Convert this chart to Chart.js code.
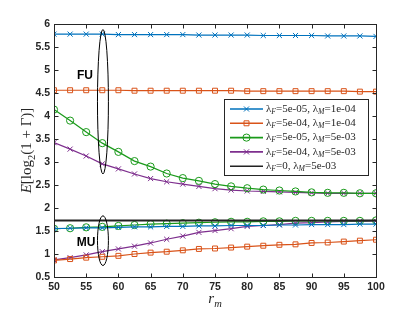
<!DOCTYPE html>
<html>
<head>
<meta charset="utf-8">
<script src="https://cdn.jsdelivr.net/npm/chart.js@4.4.1/dist/chart.umd.min.js"></script>
<style>
  html, body { margin: 0; padding: 0; background: #fff; }
</style>
</head>
<body>
<canvas id="chart" width="415" height="312"></canvas>
<script>
// r_m values (x axis)
const rm = [50, 52.5, 55, 57.5, 60, 62.5, 65, 67.5, 70, 72.5, 75, 77.5, 80, 82.5, 85, 87.5, 90, 92.5, 95, 97.5, 100];

// FU curves
const fuBlue   = [5.78, 5.78, 5.78, 5.78, 5.77, 5.77, 5.77, 5.77, 5.77, 5.76, 5.76, 5.76, 5.76, 5.75, 5.75, 5.75, 5.75, 5.74, 5.74, 5.74, 5.73];
const fuOrange = [4.56, 4.56, 4.56, 4.56, 4.56, 4.55, 4.55, 4.55, 4.55, 4.55, 4.55, 4.55, 4.54, 4.54, 4.54, 4.54, 4.54, 4.54, 4.54, 4.53, 4.53];
const fuGreen  = [4.14, 3.90, 3.65, 3.41, 3.22, 3.02, 2.90, 2.75, 2.65, 2.59, 2.52, 2.47, 2.43, 2.40, 2.38, 2.36, 2.34, 2.33, 2.33, 2.32, 2.32];
const fuPurple = [3.42, 3.28, 3.13, 2.96, 2.85, 2.74, 2.64, 2.57, 2.52, 2.47, 2.42, 2.39, 2.37, 2.36, 2.35, 2.34, 2.33, 2.32, 2.32, 2.32, 2.32];

// MU curves
const muBlue   = [1.55, 1.56, 1.57, 1.57, 1.58, 1.59, 1.59, 1.60, 1.60, 1.61, 1.61, 1.62, 1.62, 1.62, 1.63, 1.63, 1.64, 1.64, 1.64, 1.65, 1.65];
const muOrange = [0.86, 0.89, 0.92, 0.94, 0.96, 1.00, 1.03, 1.05, 1.08, 1.11, 1.12, 1.14, 1.16, 1.18, 1.20, 1.21, 1.24, 1.25, 1.27, 1.29, 1.31];
const muGreen  = [1.55, 1.56, 1.58, 1.59, 1.61, 1.63, 1.65, 1.66, 1.67, 1.68, 1.69, 1.70, 1.70, 1.71, 1.71, 1.72, 1.72, 1.72, 1.72, 1.72, 1.73];
const muPurple = [0.87, 0.92, 0.98, 1.05, 1.11, 1.17, 1.24, 1.32, 1.39, 1.47, 1.51, 1.55, 1.60, 1.62, 1.64, 1.67, 1.68, 1.70, 1.71, 1.71, 1.72];
const muBlack  = [1.73, 1.73, 1.73, 1.73, 1.73, 1.73, 1.73, 1.73, 1.73, 1.73, 1.73, 1.73, 1.73, 1.73, 1.73, 1.73, 1.73, 1.73, 1.73, 1.73, 1.73];

// legend parameters
const lamF = ['5e-05', '5e-04', '5e-05', '5e-04', '0'];
const lamM = ['1e-04', '1e-04', '5e-03', '5e-03', '5e-03'];

const xTicks = [50, 55, 60, 65, 70, 75, 80, 85, 90, 95, 100];
const yTicks = [0.5, 1, 1.5, 2, 2.5, 3, 3.5, 4, 4.5, 5, 5.5, 6];

const BLUE = '#0072BD', ORANGE = '#D95319', GREEN = '#1a9a1a', PURPLE = '#7E2F8E', BLACK = '#222';
const styles = [
  { color: BLUE, marker: 'crossRot' },
  { color: ORANGE, marker: 'rect' },
  { color: GREEN, marker: 'circle' },
  { color: PURPLE, marker: 'crossRot' },
  { color: BLACK, marker: false }
];

function series(vals, s, width) {
  return {
    data: vals.map((v, i) => ({ x: rm[i], y: v })),
    borderColor: s.color,
    backgroundColor: 'rgba(0,0,0,0)',
    borderWidth: width || 1.2,
    pointStyle: s.marker || 'circle',
    pointRadius: s.marker ? (s.marker === 'rect' ? 3.5 : 3.6) : 0,
    pointBorderWidth: 1,
    pointBorderColor: s.color,
    pointBackgroundColor: 'rgba(0,0,0,0)',
    tension: 0
  };
}

const SERIF = '"Liberation Serif", "DejaVu Serif", serif';
const SANS = '"Liberation Sans", Arial, sans-serif';

// draw text pieces: [text, kind] kind: n normal, i italic, s subscript, si italic subscript
function drawPieces(ctx, pieces, x, y, size) {
  let cx = x;
  pieces.forEach(([t, k]) => {
    const sub = k === 's' || k === 'si';
    const ital = k === 'i' || k === 'si';
    const fs = sub ? size * 0.7 : size;
    ctx.font = (ital ? 'italic ' : '') + fs + 'px ' + SERIF;
    ctx.fillText(t, cx, sub ? y + size * 0.25 : y);
    cx += ctx.measureText(t).width;
  });
  return cx - x;
}
function measurePieces(ctx, pieces, size) {
  let w = 0;
  pieces.forEach(([t, k]) => {
    const sub = k === 's' || k === 'si';
    const ital = k === 'i' || k === 'si';
    ctx.font = (ital ? 'italic ' : '') + (sub ? size * 0.7 : size) + 'px ' + SERIF;
    w += ctx.measureText(t).width;
  });
  return w;
}

const decor = {
  id: 'decor',
  afterDatasetsDraw(chart) {
    const { ctx, chartArea: a, scales: { x, y } } = chart;
    ctx.save();
    // ellipses FU / MU
    ctx.strokeStyle = '#000';
    ctx.lineWidth = 1;
    [[57.6, 4.31, 1.57], [57.6, 1.29, 0.54]].forEach(([cx, cy, hy]) => {
      const px = x.getPixelForValue(cx), py = y.getPixelForValue(cy);
      const rx = x.getPixelForValue(cx + 0.85) - px;
      const ry = py - y.getPixelForValue(cy + hy);
      ctx.beginPath();
      ctx.ellipse(px, py, rx, ry, 0, 0, Math.PI * 2);
      ctx.stroke();
    });
    ctx.fillStyle = '#000';
    ctx.font = 'bold 12px ' + SANS;
    ctx.textAlign = 'center';
    ctx.textBaseline = 'middle';
    ctx.fillText('FU', x.getPixelForValue(54.8), y.getPixelForValue(4.88));
    ctx.fillText('MU', x.getPixelForValue(55), y.getPixelForValue(1.24));

    // axes box and inward ticks
    const L = Math.round(a.left) + 0.5, R = Math.round(a.right) + 0.5;
    const T = Math.round(a.top) + 0.5, B = Math.round(a.bottom) + 0.5;
    ctx.strokeStyle = '#262626';
    ctx.lineWidth = 1;
    ctx.strokeRect(L, T, R - L, B - T);
    ctx.beginPath();
    xTicks.forEach(v => {
      const p = Math.round(x.getPixelForValue(v)) + 0.5;
      ctx.moveTo(p, B); ctx.lineTo(p, B - 4);
      ctx.moveTo(p, T); ctx.lineTo(p, T + 4);
    });
    yTicks.forEach(v => {
      const p = Math.round(y.getPixelForValue(v)) + 0.5;
      ctx.moveTo(L, p); ctx.lineTo(L + 4, p);
      ctx.moveTo(R, p); ctx.lineTo(R - 4, p);
    });
    ctx.stroke();

    // axis labels
    ctx.fillStyle = '#262626';
    ctx.textAlign = 'left';
    ctx.textBaseline = 'alphabetic';
    const xl = [['r', 'i'], ['m', 'si']];
    const xw = measurePieces(ctx, xl, 15);
    drawPieces(ctx, xl, (a.left + a.right) / 2 - xw / 2, 303, 15);

    const yl = [['E', 'i'], ['[log', 'n'], ['2', 's'], ['(1 + \u0393)]', 'n']];
    const yw = measurePieces(ctx, yl, 15);
    ctx.save();
    ctx.translate(31, (a.top + a.bottom) / 2 + yw / 2);
    ctx.rotate(-Math.PI / 2);
    drawPieces(ctx, yl, 0, 0, 15);
    ctx.restore();
    ctx.restore();
  },
  afterDraw(chart) {
    const { ctx } = chart;
    ctx.save();
    const bx = 224.5, by = 99.5, bw = 144, bh = 76;
    ctx.fillStyle = '#fff';
    ctx.fillRect(bx, by, bw, bh);
    ctx.strokeStyle = '#262626';
    ctx.lineWidth = 1;
    ctx.strokeRect(bx, by, bw, bh);
    styles.forEach((s, i) => {
      const ry = 109 + i * 14.3;
      ctx.strokeStyle = s.color;
      ctx.lineWidth = 1.6;
      ctx.beginPath();
      ctx.moveTo(230, ry); ctx.lineTo(263, ry);
      ctx.stroke();
      if (s.marker) {
        ctx.lineWidth = 1;
        ctx.fillStyle = 'rgba(0,0,0,0)';
        Chart.helpers.drawPoint(ctx, {
          pointStyle: s.marker, radius: s.marker === 'rect' ? 3.5 : 3.6,
          borderWidth: 1, rotation: 0
        }, 246.5, ry);
      }
      ctx.fillStyle = '#262626';
      ctx.textBaseline = 'middle';
      ctx.textAlign = 'left';
      drawPieces(ctx, [['\u03bb', 'n'], ['F', 'si'], ['=' + lamF[i] + ', \u03bb', 'n'], ['M', 'si'], ['=' + lamM[i], 'n']], 266, ry, 11);
    });
    ctx.restore();
  }
};

const tickFont = { family: SANS, size: 10.5, weight: 'bold' };

new Chart(document.getElementById('chart'), {
  type: 'line',
  data: {
    datasets: [
      series(fuBlue, styles[0]),
      series(fuOrange, styles[1]),
      series(fuGreen, styles[2]),
      series(fuPurple, styles[3]),
      series(muBlack, styles[4], 2),
      series(muBlue, styles[0]),
      series(muOrange, styles[1]),
      series(muGreen, styles[2]),
      series(muPurple, styles[3])
    ]
  },
  options: {
    responsive: false,
    animation: false,
    devicePixelRatio: 1,
    layout: { padding: { left: 0, right: 39, top: 24, bottom: 0 } },
    plugins: { legend: { display: false }, tooltip: { enabled: false } },
    scales: {
      x: {
        type: 'linear', min: 50, max: 100,
        afterBuildTicks: s => { s.ticks = xTicks.map(v => ({ value: v })); },
        afterFit: s => { s.height = 35; },
        grid: { display: false, drawTicks: false },
        border: { display: false },
        ticks: { color: '#262626', padding: 4, maxRotation: 0, font: tickFont, callback: v => String(v) }
      },
      y: {
        type: 'linear', min: 0.5, max: 6,
        afterBuildTicks: s => { s.ticks = yTicks.map(v => ({ value: v })); },
        afterFit: s => { s.width = 54; },
        grid: { display: false, drawTicks: false },
        border: { display: false },
        ticks: { color: '#262626', padding: 4, font: tickFont, callback: v => String(v) }
      }
    }
  },
  plugins: [decor]
});
</script>
</body>
</html>
